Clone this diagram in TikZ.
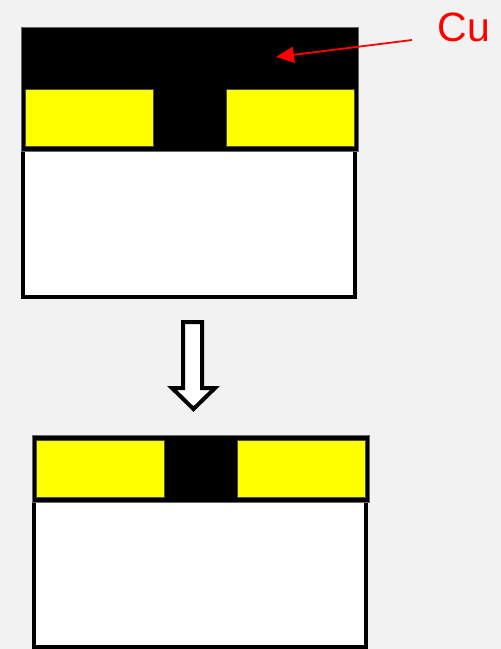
\documentclass[tikz,border=0pt]{standalone}
\usepackage{fontspec}
\setmainfont{Liberation Sans}
\usetikzlibrary{arrows.meta}
\definecolor{bggray}{HTML}{F2F2F2}
\definecolor{ylw}{HTML}{FFFF00}
\definecolor{cured}{HTML}{FF0000}
\begin{document}
\begin{tikzpicture}[x=1pt,y=-1pt,
  blk/.style={rectangle,inner sep=0pt,outer sep=0pt,fill=black,draw=black!60,line width=0.5pt},
  ylwbox/.style={rectangle,inner sep=0pt,outer sep=0pt,fill=ylw,draw=black!70,line width=0.6pt},
  substrate/.style={rectangle,inner sep=0pt,outer sep=0pt,fill=white,draw=black,line width=4pt},
  hollow/.style={fill=white,draw=black,line width=4pt,line join=miter},
  culbl/.style={text=cured,font=\fontsize{41}{41}\selectfont,inner sep=0pt}]
\fill[bggray] (0,0) rectangle (501,649);
\useasboundingbox (0,0) rectangle (501,649);
% top structure
\node[substrate,minimum width=332.3pt,minimum height=147pt] (subT) at (189.15,223.5) {};
\node[blk,minimum width=337pt,minimum height=123.5pt] (cuT) at (189.5,89.25) {};
\node[ylwbox,minimum width=128pt,minimum height=57pt] (yTL) at (89,117.5) {};
\node[ylwbox,minimum width=128pt,minimum height=57pt] (yTR) at (290,117.5) {};
% label
\node[culbl] (cu) at (464,27) {Cu};
\coordinate (custart) at (412,40);
\coordinate (cutip) at (276,57);
\draw[cured,line width=1.8pt,-{Triangle[length=18pt,width=16pt]}] (custart) -- (cutip);
% hollow arrow
\draw[hollow] (183,322) -- (202,322) -- (202,388) -- (215,388) -- (193.5,409) -- (172,388) -- (183,388) -- cycle;
% bottom structure
\node[substrate,minimum width=332pt,minimum height=147pt] (subB) at (200,573.5) {};
\node[blk,minimum width=337.5pt,minimum height=67pt] (cuB) at (200.75,468.5) {};
\node[ylwbox,minimum width=127.3pt,minimum height=57pt] (yBL) at (100.35,468.5) {};
\node[ylwbox,minimum width=128.3pt,minimum height=57pt] (yBR) at (301.15,468.5) {};
\end{tikzpicture}
\end{document}
